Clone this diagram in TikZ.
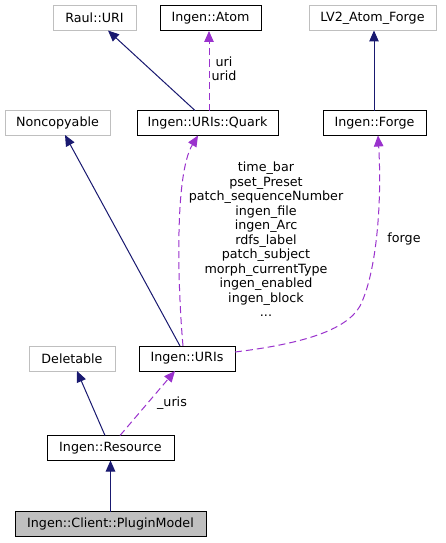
\documentclass[tikz,border=0pt]{standalone}
\usepackage{fontspec}
\setmainfont{DejaVu Sans}
\usetikzlibrary{arrows.meta,calc}
\definecolor{navy}{HTML}{191970}
\definecolor{orchid}{HTML}{9A32CD}
\definecolor{lgray}{HTML}{BFBFBF}
\begin{document}
\begin{tikzpicture}[x=1pt,y=-1pt,
  every node/.style={font=\fontsize{12.7}{14.5}\selectfont, inner sep=0pt, outer sep=0pt},
  cls/.style={draw=black, line width=1pt, fill=white, minimum height=25pt},
  ext/.style={draw=lgray, line width=1pt, fill=white, minimum height=25pt},
  inh/.style={draw=navy, line width=1pt, -{Triangle[length=11pt,width=9.5pt]}},
  use/.style={draw=orchid, line width=1pt, dash pattern=on 7pt off 4pt, -{Triangle[length=11pt,width=9.5pt]}},
  lbl/.style={align=center, text=black}]
\useasboundingbox (0,0) rectangle (445,543);
\fill[white] (0,0) rectangle (445,543);
% nodes
\node[ext, minimum width=83pt] (rauluri) at (94.5,18) {Raul::URI};
\node[cls, minimum width=101pt] (atom) at (210.5,18.5) {Ingen::Atom};
\node[ext, minimum width=127pt] (lv2) at (372.5,18) {LV2\_Atom\_Forge};
\node[ext, minimum width=105pt] (noncop) at (57.5,122.5) {Noncopyable};
\node[cls, minimum width=141pt] (quark) at (207.5,123) {Ingen::URIs::Quark};
\node[cls, minimum width=103pt] (forge) at (374.5,123) {Ingen::Forge};
\node[ext, minimum width=86pt] (deletable) at (72,358.5) {Deletable};
\node[cls, minimum width=96pt] (uris) at (187,358.5) {Ingen::URIs};
\node[cls, minimum width=127pt] (resource) at (110.5,448) {Ingen::Resource};
\node[cls, minimum width=191pt, fill=lgray] (plugin) at (110.5,524) {Ingen::Client::PluginModel};
% edges
\draw[inh] ([xshift=-12.5pt]quark.north) -- ([xshift=13.5pt]rauluri.south);
\draw[use] ([xshift=1.5pt]quark.north) -- ([xshift=-1.5pt]atom.south);
\node[lbl] (lbluri) at (224,69) {uri\\urid};
\draw[inh] ([xshift=-0.5pt]forge.north) -- ([xshift=1.5pt]lv2.south);
\draw[inh] ([xshift=-7pt]uris.north) -- ([xshift=7.5pt]noncop.south);
\draw[use] ([xshift=-4pt]uris.north) .. controls (178,290) and (174,175) .. ([xshift=-9.5pt]quark.south);
\coordinate (fmid) at (360,306);
\draw[use] ([yshift=6.5pt]uris.east) .. controls (300,344) and (346,331) .. (fmid)
  .. controls (377,272) and (382,200) .. ([xshift=3.5pt]forge.south);
\node[lbl] (lblforge) at (404,239) {forge};
\node[lbl] (lblq) at (266,239.5) {time\_bar\\pset\_Preset\\patch\_sequenceNumber\\ingen\_file\\ingen\_Arc\\rdfs\_label\\patch\_subject\\morph\_currentType\\ingen\_enabled\\ingen\_block\\...};
\draw[inh] ([xshift=-5.5pt]resource.north) -- ([xshift=5pt]deletable.south);
\draw[use] ([xshift=9.5pt]resource.north) -- ([xshift=-12pt]uris.south);
\node[lbl] (lbluris) at (172,403) {\_uris};
\draw[inh] (plugin.north) -- (resource.south);
\end{tikzpicture}
\end{document}
